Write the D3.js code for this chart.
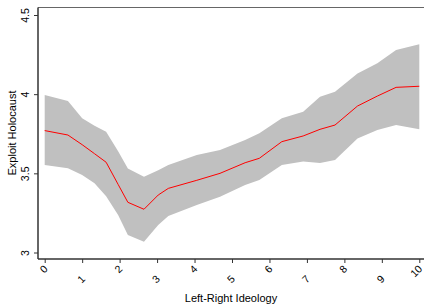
<!DOCTYPE html>
<html>
<head>
<meta charset="utf-8">
<script src="https://cdn.jsdelivr.net/npm/d3@7"></script>
<style>
body { margin: 0; background: #fff; }
svg { display: block; font-family: "Liberation Sans", Arial, sans-serif; }
</style>
</head>
<body>
<svg id="chart" width="424" height="307"></svg>
<script>
// Left-right ideology points and smoothed fit with 95% band
var ideology = [0, 0.62, 1.0, 1.33, 1.64, 1.96, 2.22, 2.65, 3.03, 3.3, 4.06, 4.68, 5.35, 5.73, 6.33, 6.9, 7.35, 7.75, 8.35, 8.88, 9.38, 10];
var fitted   = [3.77, 3.742, 3.681, 3.624, 3.57, 3.43, 3.317, 3.273, 3.363, 3.405, 3.456, 3.50, 3.567, 3.595, 3.70, 3.736, 3.778, 3.805, 3.925, 3.988, 4.043, 4.05];
var upper    = [3.995, 3.957, 3.848, 3.80, 3.763, 3.64, 3.53, 3.479, 3.52, 3.553, 3.616, 3.647, 3.71, 3.753, 3.848, 3.889, 3.984, 4.016, 4.13, 4.195, 4.279, 4.315];
var lower    = [3.553, 3.532, 3.49, 3.437, 3.355, 3.237, 3.11, 3.068, 3.174, 3.23, 3.30, 3.352, 3.426, 3.458, 3.553, 3.574, 3.565, 3.584, 3.72, 3.774, 3.805, 3.778];
var xTicks = [0, 1, 2, 3, 4, 5, 6, 7, 8, 9, 10];
var yTicks = [3, 3.5, 4, 4.5];

var svg = d3.select("#chart");
var axisLeftX = 38, axisBottomY = 259, topY = 7.5;

var x = d3.scaleLinear().domain([0, 10]).range([44.7, 419.3]);
var y = d3.scaleLinear().domain([3, 4.5]).range([252.5, 15]);

var pts = ideology.map(function(d, i) {
    return {x: d, fit: fitted[i], lo: lower[i], hi: upper[i]};
});

// confidence band
var area = d3.area()
    .x(function(d) { return x(d.x); })
    .y0(function(d) { return y(d.lo); })
    .y1(function(d) { return y(d.hi); });

svg.append("path")
    .datum(pts)
    .attr("d", area)
    .attr("fill", "#c0c0c0");

// fitted line
var line = d3.line()
    .x(function(d) { return x(d.x); })
    .y(function(d) { return y(d.fit); });

svg.append("path")
    .datum(pts)
    .attr("d", line)
    .attr("fill", "none")
    .attr("stroke", "#ff0000")
    .attr("stroke-width", 1);

// top border
svg.append("line")
    .attr("x1", axisLeftX).attr("x2", 424)
    .attr("y1", topY).attr("y2", topY)
    .attr("stroke", "#666").attr("stroke-width", 1.2);

// y axis
var yAxis = d3.axisLeft(y)
    .tickValues(yTicks)
    .tickSize(4)
    .tickFormat(d3.format("~g"));

var gy = svg.append("g")
    .attr("transform", "translate(" + axisLeftX + ",0)")
    .call(yAxis);
gy.select(".domain").attr("d", "M0," + topY + "V" + axisBottomY)
    .attr("stroke", "#333").attr("stroke-width", 1.5);
gy.selectAll(".tick line").attr("stroke", "#333");
gy.selectAll(".tick text")
    .attr("x", null).attr("dy", null)
    .attr("transform", "translate(-9,0) rotate(-90)")
    .attr("text-anchor", "middle")
    .attr("font-size", 10.5)
    .attr("fill", "#000");

// x axis
var xAxis = d3.axisBottom(x)
    .tickValues(xTicks)
    .tickSize(4)
    .tickFormat(d3.format("d"));

var gx = svg.append("g")
    .attr("transform", "translate(0," + axisBottomY + ")")
    .call(xAxis);
gx.select(".domain").attr("d", "M" + axisLeftX + ",0H424")
    .attr("stroke", "#333").attr("stroke-width", 1.5);
gx.selectAll(".tick line").attr("stroke", "#333");
gx.selectAll(".tick text")
    .attr("y", null).attr("dy", "0.35em")
    .attr("transform", function(d) {
        var off = (d % 2 === 0) ? 8 : 18;
        return "translate(0.5," + off + ") rotate(-45)";
    })
    .attr("text-anchor", "end")
    .attr("font-size", 10.5)
    .attr("fill", "#000");

// axis titles
svg.append("text")
    .attr("transform", "translate(16,133) rotate(-90)")
    .attr("text-anchor", "middle")
    .attr("font-size", 11)
    .text("Exploit Holocaust");

svg.append("text")
    .attr("x", 231)
    .attr("y", 302)
    .attr("text-anchor", "middle")
    .attr("font-size", 11)
    .text("Left-Right Ideology");
</script>
</body>
</html>
